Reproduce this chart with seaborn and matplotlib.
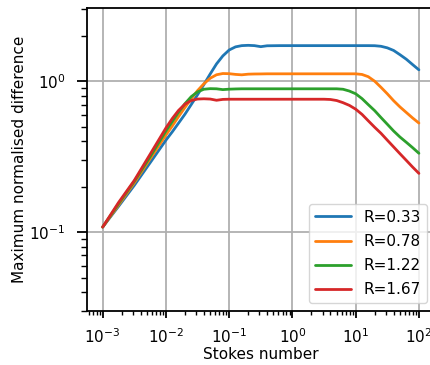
import numpy as np
import pandas as pd
import matplotlib
matplotlib.use("Agg")
import matplotlib.pyplot as plt
import seaborn as sns

stokes = [0.001, 0.00178, 0.00316, 0.00562, 0.01, 0.0126, 0.0158, 0.02, 0.0251,
          0.0316, 0.0398, 0.0501, 0.0631, 0.0794, 0.1, 0.126, 0.158, 0.2, 0.251,
          0.316, 0.398, 0.631, 1.0, 1.78, 3.16, 3.98, 5.01, 6.31, 7.94, 10.0,
          12.6, 15.8, 20.0, 25.1, 31.6, 39.8, 50.1, 63.1, 79.4, 100.0]

diff_r033 = [0.108, 0.148, 0.204, 0.288, 0.407, 0.462, 0.527, 0.605, 0.700,
             0.813, 0.951, 1.117, 1.303, 1.472, 1.611, 1.690, 1.722, 1.730, 1.722,
             1.695, 1.718, 1.722, 1.722, 1.722, 1.722, 1.722, 1.722, 1.722, 1.722, 1.722,
             1.722, 1.722, 1.720, 1.705, 1.665, 1.600, 1.500, 1.400, 1.290, 1.190]

diff_r078 = [0.108, 0.151, 0.212, 0.306, 0.440, 0.505, 0.582, 0.670, 0.766,
             0.866, 0.962, 1.047, 1.104, 1.125, 1.122, 1.110, 1.103, 1.114, 1.117,
             1.118, 1.120, 1.120, 1.120, 1.120, 1.120, 1.120, 1.120, 1.120, 1.120, 1.120,
             1.109, 1.072, 1.000, 0.912, 0.826, 0.743, 0.676, 0.621, 0.571, 0.528]

diff_r122 = [0.108, 0.154, 0.217, 0.316, 0.468, 0.540, 0.622, 0.710, 0.790,
             0.850, 0.885, 0.893, 0.891, 0.880, 0.886, 0.889, 0.891, 0.891, 0.891,
             0.891, 0.891, 0.891, 0.891, 0.891, 0.891, 0.891, 0.891, 0.885, 0.861, 0.826,
             0.767, 0.700, 0.638, 0.575, 0.519, 0.468, 0.427, 0.394, 0.363, 0.333]

diff_r167 = [0.108, 0.157, 0.220, 0.328, 0.490, 0.566, 0.640, 0.705, 0.745,
             0.762, 0.765, 0.762, 0.748, 0.758, 0.760, 0.760, 0.760, 0.760, 0.760,
             0.760, 0.760, 0.760, 0.760, 0.760, 0.760, 0.757, 0.745, 0.721, 0.692, 0.653,
             0.603, 0.547, 0.495, 0.452, 0.407, 0.367, 0.331, 0.299, 0.270, 0.245]

labels = ["R=0.33", "R=0.78", "R=1.22", "R=1.67"]
series = [diff_r033, diff_r078, diff_r122, diff_r167]

df = pd.concat([pd.DataFrame({"Stokes number": stokes, "diff": s, "R": lab})
                for lab, s in zip(labels, series)], ignore_index=True)

sns.set_theme(style="white", context="notebook")
plt.rcParams.update({
    "font.family": ["DejaVu Sans"],
    "axes.edgecolor": "black",
    "axes.linewidth": 1.3,
    "xtick.color": "black",
    "ytick.color": "black",
    "axes.labelcolor": "black",
    "text.color": "black",
    "xtick.labelsize": 11,
    "ytick.labelsize": 11,
    "axes.labelsize": 11,
    "legend.fontsize": 11,
    "xtick.bottom": True,
    "ytick.left": True,
})

fig = plt.figure(figsize=(4.3, 3.65), dpi=100)
ax = fig.add_axes([0.202, 0.148, 0.809, 0.829])

sns.lineplot(data=df, x="Stokes number", y="diff", hue="R",
             palette=sns.color_palette("tab10", 4), linewidth=2.0, ax=ax)

ax.set_xscale("log")
ax.set_yscale("log")
ax.set_ylim(0.03, 3.04)
ax.set_xlim(10 ** -3.25, 10 ** 2.25)
ax.grid(True, which="major", color="#b0b0b0", linewidth=1.3)
ax.set_xlabel("Stokes number", labelpad=1)
ax.set_ylabel("Maximum normalised difference", labelpad=1.5)
ax.tick_params(axis="x", which="major", direction="out", bottom=True,
               length=5, width=1.3, pad=6.5)
ax.tick_params(axis="x", which="minor", direction="out", bottom=True,
               length=3, width=1.0)
ax.tick_params(axis="y", which="major", direction="out", left=True,
               length=7, width=1.3, pad=8.5)
ax.tick_params(axis="y", which="minor", direction="out", left=True,
               length=4.5, width=1.0)
ax.legend(loc="lower right", framealpha=0.8, fancybox=True, edgecolor="#cccccc",
          handlelength=2.4, labelspacing=0.6)

fig.savefig("out.png", dpi=100)
